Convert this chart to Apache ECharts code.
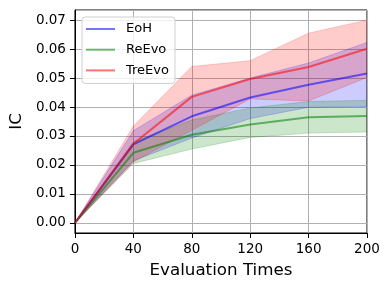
<!DOCTYPE html>
<html><head><meta charset="utf-8">
<script src="https://cdn.jsdelivr.net/npm/echarts@6/dist/echarts.min.js"></script>
<style>html,body{margin:0;padding:0;background:#fff}#c{width:390px;height:290px}</style>
</head><body><div id="c"></div>
<script>
const xs = ['0','40','80','120','160','200'];
const yTicks = [0,0.01,0.02,0.03,0.04,0.05,0.06,0.07];
const eohMean = [0, 0.0271, 0.0368, 0.0433, 0.0477, 0.0516];
const eohHigh = [0, 0.0318, 0.0441, 0.0500, 0.0552, 0.0623];
const eohLow  = [0, 0.0214, 0.0293, 0.0360, 0.0399, 0.0402];
const reevoMean = [0, 0.0242, 0.0304, 0.0340, 0.0365, 0.0369];
const reevoHigh = [0, 0.0280, 0.0355, 0.0397, 0.0419, 0.0423];
const reevoLow  = [0, 0.0205, 0.0255, 0.0295, 0.0310, 0.0314];
const treevoMean = [0, 0.0273, 0.0435, 0.0497, 0.0538, 0.0601];
const treevoHigh = [0, 0.0334, 0.0540, 0.0560, 0.0655, 0.0700];
const treevoLow  = [0, 0.0210, 0.0320, 0.0428, 0.0421, 0.0502];

const methods = [
  {name:'EoH', mean:eohMean, low:eohLow, high:eohHigh, rgb:'0,0,255'},
  {name:'ReEvo', mean:reevoMean, low:reevoLow, high:reevoHigh, rgb:'0,128,0'},
  {name:'TreEvo', mean:treevoMean, low:treevoLow, high:treevoHigh, rgb:'255,0,0'}
];
const series = [];
methods.forEach((m, i) => {
  const fill = 'rgba(' + m.rgb + ',0.2)';
  series.push({
    type:'line', stack:'band'+i, data:m.low, symbol:'none', silent:true,
    lineStyle:{color:fill, width:1}, z:1
  });
  series.push({
    type:'line', stack:'band'+i, data:m.high.map((h,k)=>h - m.low[k]), symbol:'none', silent:true,
    lineStyle:{color:fill, width:1}, areaStyle:{color:fill, opacity:1}, z:1
  });
});
methods.forEach((m) => {
  series.push({
    name:m.name, type:'line', data:m.mean, symbol:'none', z:3,
    lineStyle:{color:'rgba(' + m.rgb + ',0.55)', width:2},
    itemStyle:{color:'rgba(' + m.rgb + ',0.55)'}
  });
});

const chart = echarts.init(document.getElementById('c'), null, {renderer:'canvas'});
chart.setOption({
  animation:false,
  grid:{left:74, right:23, top:10, bottom:57, show:true, borderColor:'#000', borderWidth:1, backgroundColor:'transparent'},
  legend:{
    data:methods.map(m=>m.name), orient:'vertical', left:82, top:17,
    icon:'rect', itemWidth:29, itemHeight:2, itemGap:6.7,
    padding:[5,6,6,4], borderColor:'#d0d0d0', borderWidth:1, borderRadius:3,
    backgroundColor:'rgba(255,255,255,0.8)',
    formatter:(n)=>'{t|' + n + '}',
    textStyle:{fontFamily:'DejaVu Sans', fontSize:13, color:'#000', lineHeight:14,
      rich:{t:{fontFamily:'DejaVu Sans', fontSize:13, color:'#000', lineHeight:14, padding:[0,0,0,6]}}}
  },
  xAxis:{
    type:'category', data:xs, boundaryGap:false,
    name:'Evaluation Times', nameLocation:'middle', nameGap:29,
    nameTextStyle:{fontFamily:'DejaVu Sans', fontSize:16.7, color:'#000'},
    axisLine:{onZero:false, lineStyle:{color:'#000', width:1}},
    axisTick:{show:true, length:5, lineStyle:{color:'#000'}},
    axisLabel:{fontFamily:'DejaVu Sans', fontSize:13.5, color:'#000', margin:9},
    splitLine:{show:true, lineStyle:{color:'#b0b0b0', width:1}}
  },
  yAxis:{
    type:'value', min:-0.0035, max:0.0735, splitNumber:8,
    name:'IC', nameLocation:'middle', nameGap:43, nameRotate:90,
    nameTextStyle:{fontFamily:'DejaVu Sans', fontSize:16.7, color:'#000'},
    axisLine:{show:true, onZero:false, lineStyle:{color:'#000', width:1}},
    axisTick:{show:true, length:5, lineStyle:{color:'#000'}},
    axisLabel:{fontFamily:'DejaVu Sans', fontSize:13.5, color:'#000', margin:9,
      showMinLabel:false, showMaxLabel:false,
      formatter:(v)=> yTicks.some(t=>Math.abs(t-v)<1e-9) ? v.toFixed(2) : ''},
    splitLine:{show:true, lineStyle:{color:'#b0b0b0', width:1}}
  },
  series:series
});
</script></body></html>
